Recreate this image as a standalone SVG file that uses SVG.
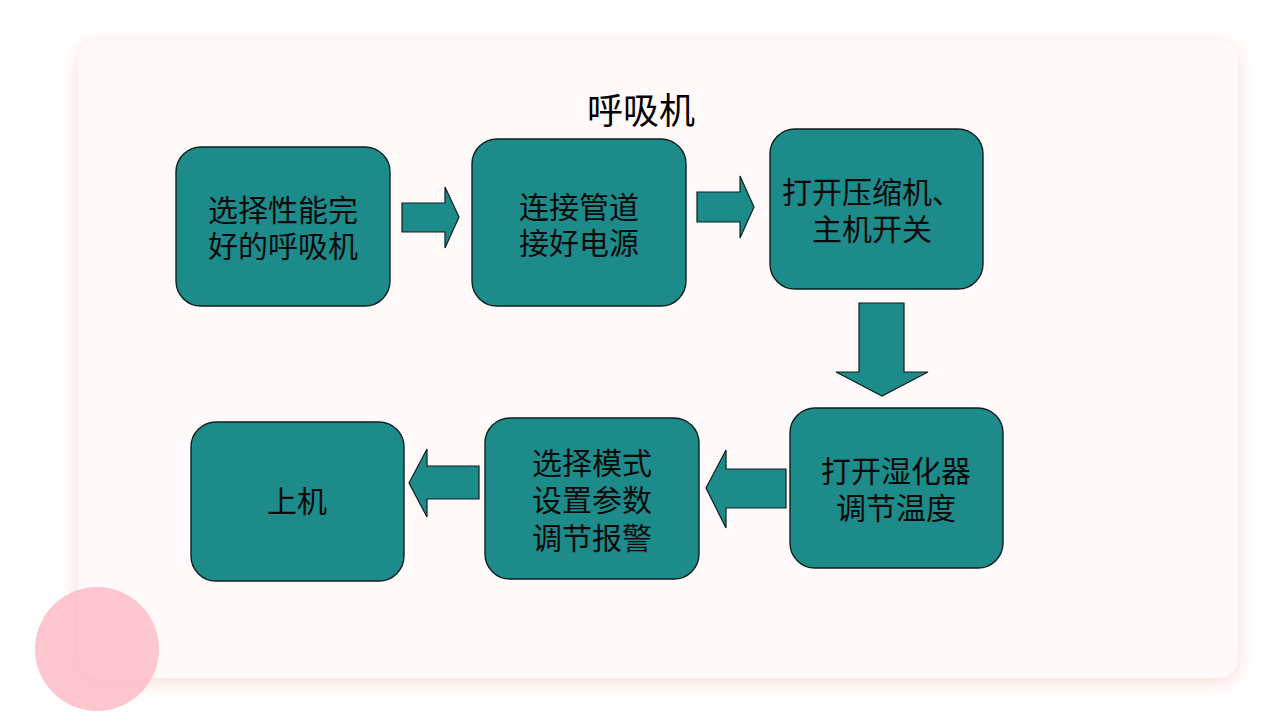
<svg xmlns="http://www.w3.org/2000/svg" width="1280" height="720" viewBox="0 0 1280 720">
<defs>
<filter id="glow" x="-10%" y="-10%" width="120%" height="120%">
<feDropShadow dx="0" dy="4" stdDeviation="10" flood-color="#F6B8B0" flood-opacity="0.5"/>
</filter>
<style>
.node{fill:#1D8B8A;stroke:#0E1E1E;stroke-width:1.4}
.arr{fill:#1D8B8A;stroke:#0E1E1E;stroke-width:1.2;stroke-linejoin:miter}
.lbl{font-family:"Liberation Sans","Noto Sans CJK SC",sans-serif;font-size:30px;fill:#0A0A0A;text-anchor:middle}
.title{font-family:"Liberation Sans","Noto Sans CJK SC",sans-serif;font-size:36px;fill:#000;text-anchor:middle}
</style>
</defs>
<rect width="1280" height="720" fill="#FFFFFF"/>
<rect x="78" y="40" width="1160" height="638" rx="20" fill="#FFFAF9" filter="url(#glow)"/>
<circle cx="97" cy="649" r="62" fill="#FDBCC9" opacity="0.85"/>
<text class="title" x="641" y="124">呼吸机</text>
<g id="connectors">
<polygon class="arr" points="402,203 445,203 445,187 459,217 445,248 445,232 402,232"/>
<polygon class="arr" points="697,192 740,192 740,176 754,207 740,238 740,222 697,222"/>
<polygon class="arr" points="859,303 904,303 904,372 928,372 882,396 836,372 859,372"/>
<polygon class="arr" points="786,469 726,469 726,450 706,488 726,528 726,508 786,508"/>
<polygon class="arr" points="479,466 427,466 427,449 409,483 427,517 427,499 479,499"/>
</g>
<g id="n1">
<rect class="node" x="176" y="147" width="214" height="159" rx="25"/>
<text class="lbl"><tspan x="283" y="221">选择性能完</tspan><tspan x="283" y="257">好的呼吸机</tspan></text>
</g>
<g id="n2">
<rect class="node" x="472" y="139" width="214" height="167" rx="25"/>
<text class="lbl"><tspan x="579" y="218">连接管道</tspan><tspan x="579" y="254">接好电源</tspan></text>
</g>
<g id="n3">
<rect class="node" x="770" y="129" width="213" height="160" rx="25"/>
<text class="lbl"><tspan x="872" y="203">打开压缩机、</tspan><tspan x="872" y="240">主机开关</tspan></text>
</g>
<g id="n4">
<rect class="node" x="790" y="408" width="213" height="160" rx="25"/>
<text class="lbl"><tspan x="896" y="482">打开湿化器</tspan><tspan x="896" y="519">调节温度</tspan></text>
</g>
<g id="n5">
<rect class="node" x="485" y="418" width="214" height="161" rx="25"/>
<text class="lbl"><tspan x="592" y="474">选择模式</tspan><tspan x="592" y="511">设置参数</tspan><tspan x="592" y="549">调节报警</tspan></text>
</g>
<g id="n6">
<rect class="node" x="191" y="422" width="213" height="159" rx="25"/>
<text class="lbl" x="297" y="512">上机</text>
</g>
</svg>
